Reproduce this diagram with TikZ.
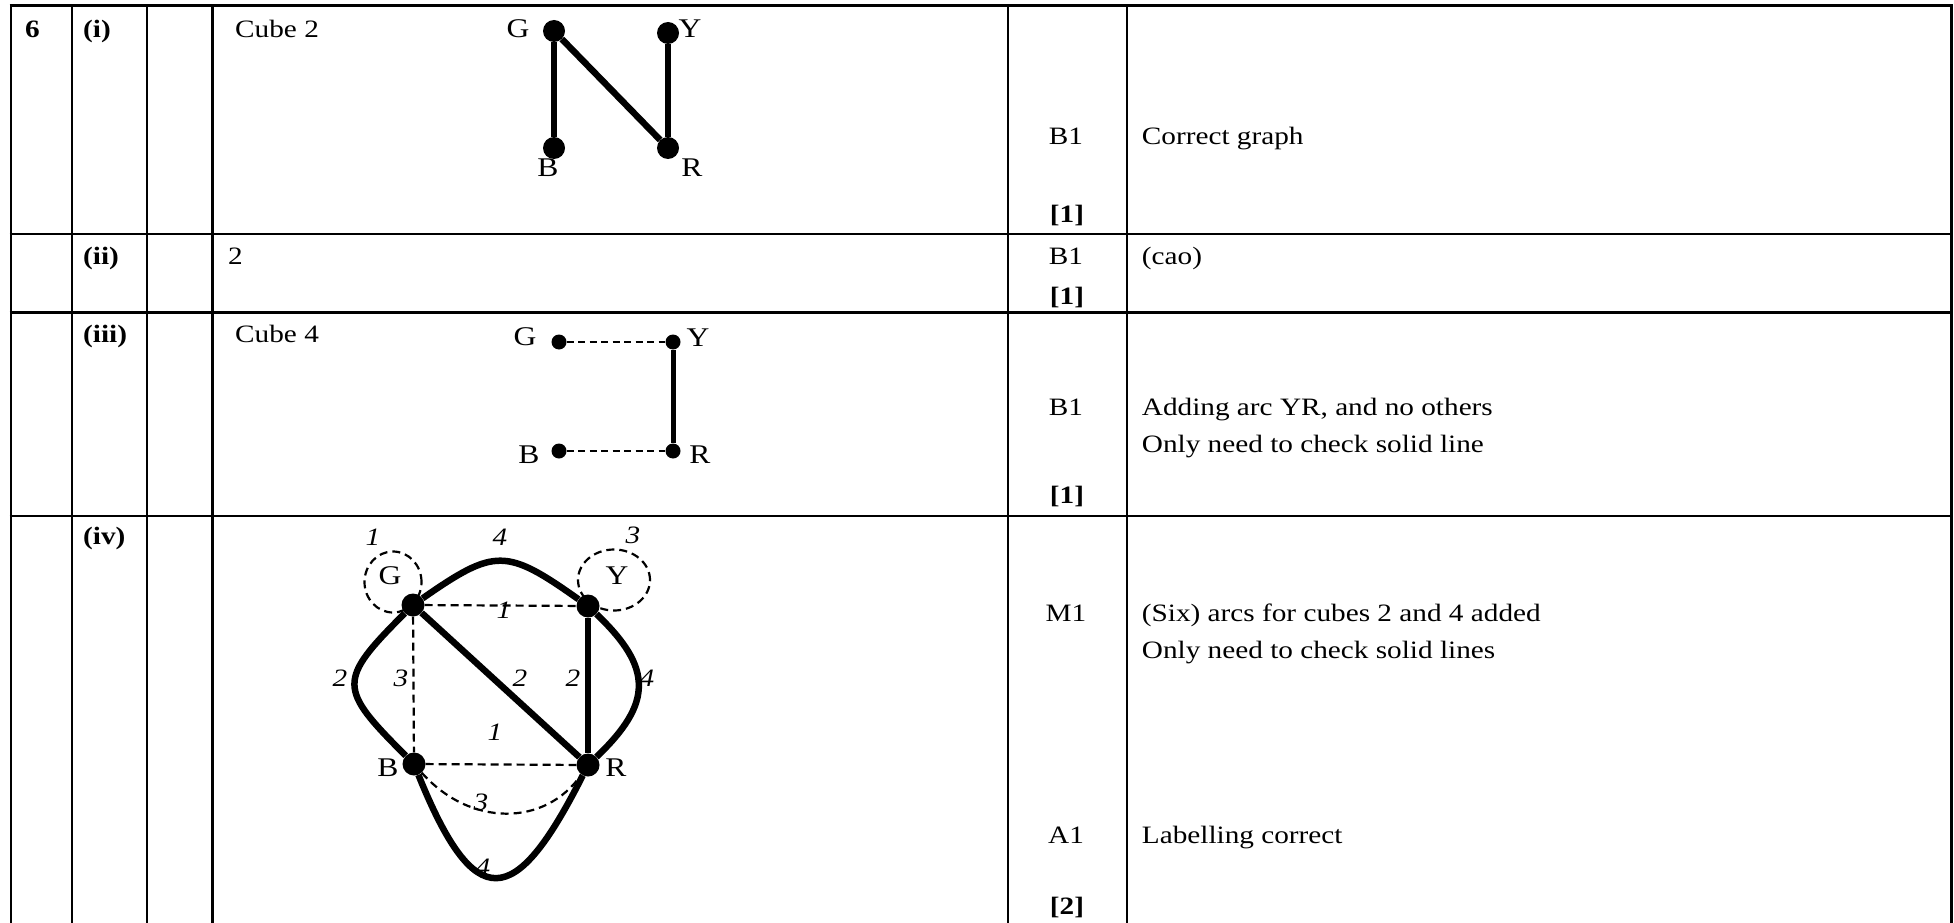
\documentclass[tikz,border=0pt]{standalone}
\usepackage{fontspec}
\setmainfont{Liberation Serif}
\usepackage{graphicx}
\newcommand{\sx}[1]{\scalebox{1.17}[1]{#1}}
\begin{document}
\begin{tikzpicture}[x=1pt, y=-1pt,
  txt/.style={inner sep=0pt, font=\fontsize{25}{30}\selectfont},
  lbl/.style={inner sep=0pt, font=\fontsize{27}{32}\selectfont},
  num/.style={inner sep=0pt, font=\fontsize{25}{30}\selectfont\itshape},
  rule/.style={line width=2.6pt},
  vbig/.style={circle, fill=black, inner sep=0pt, minimum size=22pt},
  vmid/.style={circle, fill=black, inner sep=0pt, minimum size=23pt},
  vsmall/.style={circle, fill=black, inner sep=0pt, minimum size=15pt},
  heavy/.style={line width=6.5pt},
  heavyb/.style={line width=5pt},
  dsh/.style={line width=2.2pt, dash pattern=on 8pt off 5pt},
  dshs/.style={line width=2.2pt, dash pattern=on 7pt off 4.5pt}]
\useasboundingbox (0,0) rectangle (1954,923);
\fill[white] (0,0) rectangle (1954,923);

% ---- table rules
\foreach \yy in {5.5,234,312.5,516} {\draw[rule] (9.7,\yy) -- (1952.8,\yy);}
\foreach \xx in {11,72,147,212.5,1008,1127,1951.5} {\draw[rule] (\xx,4.2) -- (\xx,923);}

% ---- row (i)
\node[txt, anchor=base west] (q6) at (25,38) {\sx{\bfseries 6}};
\node[txt, anchor=base west] (pi) at (83,38) {\sx{\bfseries (i)}};
\node[txt, anchor=base west] (cube2) at (235,38) {\sx{Cube 2}};
\node[txt, anchor=base] (m1a) at (1066,145) {\sx{B1}};
\node[txt, anchor=base west] (c1a) at (1141.7,145) {\sx{Correct graph}};
\node[txt, anchor=base] (k1a) at (1067,222) {\sx{\bfseries [1]}};

\node[lbl] (lG1) at (518,29) {\sx{G}};
\node[lbl] (lY1) at (690,29) {\sx{Y}};
\node[lbl] (lB1) at (548,168) {\sx{B}};
\node[lbl] (lR1) at (692,168) {\sx{R}};
\node[vbig] (G1) at (554,31) {};
\node[vbig] (Y1) at (668,33) {};
\node[vbig] (B1) at (554,148) {};
\node[vbig] (R1) at (668,148) {};
\draw[heavy] (G1) -- (B1);
\draw[heavy] (G1) -- (R1);
\draw[heavy] (Y1) -- (R1);

% ---- row (ii)
\node[txt, anchor=base west] (pii) at (83,264) {\sx{\bfseries (ii)}};
\node[txt, anchor=base west] (ans2) at (228,264) {\sx{2}};
\node[txt, anchor=base] (m1b) at (1066,264) {\sx{B1}};
\node[txt, anchor=base west] (c1b) at (1141.7,264) {\sx{(cao)}};
\node[txt, anchor=base] (k1b) at (1067,304) {\sx{\bfseries [1]}};

% ---- row (iii)
\node[txt, anchor=base west] (piii) at (83,342) {\sx{\bfseries (iii)}};
\node[txt, anchor=base west] (cube4) at (235,342) {\sx{Cube 4}};
\node[txt, anchor=base] (m1c) at (1066,415) {\sx{B1}};
\node[txt, anchor=base west] (c1c) at (1141.7,415) {\sx{Adding arc YR, and no others}};
\node[txt, anchor=base west] (c2c) at (1141.7,452) {\sx{Only need to check solid line}};
\node[txt, anchor=base] (k1c) at (1067,503) {\sx{\bfseries [1]}};

\node[lbl] (lG3) at (525,337) {\sx{G}};
\node[lbl] (lY3) at (698,338) {\sx{Y}};
\node[lbl] (lB3) at (529,455) {\sx{B}};
\node[lbl] (lR3) at (700,455) {\sx{R}};
\node[vsmall] (G3) at (559,342) {};
\node[vsmall] (Y3) at (673,342) {};
\node[vsmall] (B3) at (559,451) {};
\node[vsmall] (R3) at (673,451) {};
\draw[dshs] (G3) -- (Y3);
\draw[dshs] (B3) -- (R3);
\draw[heavyb] (Y3) -- (R3);

% ---- row (iv)
\node[txt, anchor=base west] (piv) at (83,544) {\sx{\bfseries (iv)}};
\node[txt, anchor=base] (m1d) at (1066,621) {\sx{M1}};
\node[txt, anchor=base west] (c1d) at (1141.7,621) {\sx{(Six) arcs for cubes 2 and 4 added}};
\node[txt, anchor=base west] (c2d) at (1141.7,658) {\sx{Only need to check solid lines}};
\node[txt, anchor=base] (a1d) at (1066,843) {\sx{A1}};
\node[txt, anchor=base west] (c3d) at (1141.7,843) {\sx{Labelling correct}};
\node[txt, anchor=base] (k2d) at (1067,914) {\sx{\bfseries [2]}};

\node[lbl] (lG4) at (390,576) {\sx{G}};
\node[lbl] (lY4) at (617,576) {\sx{Y}};
\node[lbl] (lB4) at (388,768) {\sx{B}};
\node[lbl] (lR4) at (616,768) {\sx{R}};

\node[num] (n1) at (373,537) {\sx{1}};
\node[num] (n2) at (500,537) {\sx{4}};
\node[num] (n3) at (633,535) {\sx{3}};
\node[num] (n4) at (504,610) {\sx{1}};
\node[num] (n5) at (340,678) {\sx{2}};
\node[num] (n6) at (401,678) {\sx{3}};
\node[num] (n7) at (520,678) {\sx{2}};
\node[num] (n8) at (573,678) {\sx{2}};
\node[num] (n9) at (647,678) {\sx{4}};
\node[num] (n10) at (495,732) {\sx{1}};
\node[num] (n11) at (481,802) {\sx{3}};
\node[num] (n12) at (483,867) {\sx{4}};

\draw[dsh] (393,582) ellipse [x radius=28.5pt, y radius=30.5pt];
\draw[dsh] (614,580) ellipse [x radius=36pt, y radius=30.5pt];

\node[vmid] (G4) at (413,605) {};
\node[vmid] (Y4) at (588,606) {};
\node[vmid] (B4) at (414,764) {};
\node[vmid] (R4) at (588,765) {};

\draw[dsh] (G4) -- (Y4);
\draw[dsh] (G4) -- (B4);
\draw[dsh] (B4) -- (R4);
\draw[dsh] (B4) .. controls (470,827) and (545,827) .. (R4);

\draw[heavy] (G4) .. controls (495,548) and (506,548) .. (Y4);
\draw[heavy] (G4) .. controls (337,681) and (338,688) .. (B4);
\draw[heavy] (Y4) .. controls (653,668) and (653,703) .. (R4);
\draw[heavy] (B4) .. controls (475,915) and (515,910) .. (R4);
\draw[heavy] (G4) -- (R4);
\draw[heavy] (Y4) -- (R4);
\end{tikzpicture}
\end{document}
